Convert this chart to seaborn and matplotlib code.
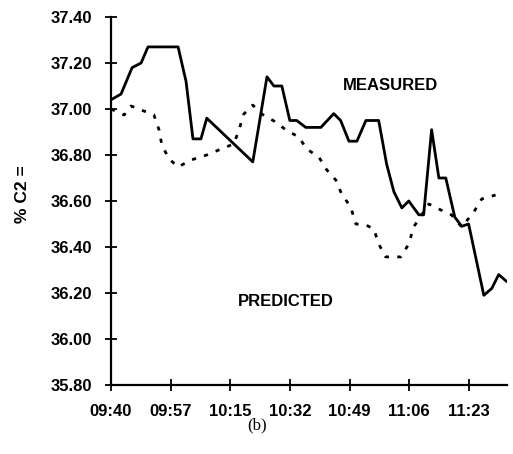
import matplotlib
matplotlib.use("Agg")
import matplotlib.pyplot as plt
import seaborn as sns
import pandas as pd

# ---- data (minutes after 09:40, % C2=) ----
measured_t = [0.0, 2.9, 6.1, 8.7, 10.7, 19.4, 21.7, 23.7, 26.0, 27.7, 41.0, 45.1,
              47.1, 49.4, 51.7, 53.7, 56.3, 60.7, 64.4, 66.4, 68.8, 71.1, 73.7,
              77.4, 79.7, 81.8, 84.1, 86.1, 89.0, 90.4, 92.7, 94.8, 96.8, 99.4,
              101.4, 103.4, 107.8, 110.1, 112.1, 114.4]
measured_v = [37.04, 37.065, 37.18, 37.20, 37.27, 37.27, 37.12, 36.87, 36.87, 36.96,
              36.77, 37.14, 37.10, 37.10, 36.95, 36.95, 36.92, 36.92, 36.98, 36.95,
              36.86, 36.86, 36.95, 36.95, 36.76, 36.64, 36.57, 36.60, 36.54, 36.54,
              36.91, 36.70, 36.70, 36.53, 36.49, 36.50, 36.19, 36.22, 36.28, 36.25]

predicted_t = [0.0, 3.8, 5.8, 8.7, 12.4, 13.9, 14.7, 16.8, 19.4, 23.1, 27.7, 31.8,
               35.5, 37.0, 38.4, 41.0, 43.6, 47.1, 50.6, 54.3, 56.6, 60.1, 62.4,
               65.0, 66.7, 69.3, 70.8, 73.7, 76.0, 77.4, 79.4, 83.8, 86.1, 87.5,
               91.9, 94.8, 98.5, 101.4, 104.9, 107.2, 111.2]
predicted_v = [37.00, 36.974, 37.013, 36.996, 36.974, 36.909, 36.843, 36.783, 36.748,
               36.778, 36.80, 36.826, 36.848, 36.909, 36.978, 37.017, 36.978, 36.948,
               36.909, 36.878, 36.826, 36.791, 36.735, 36.691, 36.630, 36.574, 36.50,
               36.496, 36.478, 36.413, 36.357, 36.357, 36.413, 36.487, 36.587, 36.565,
               36.539, 36.487, 36.552, 36.609, 36.626]

xtick_pos = [0, 17.25, 34.5, 51.75, 69.0, 86.25, 103.5]
xtick_labels = ["09:40", "09:57", "10:15", "10:32", "10:49", "11:06", "11:23"]
ytick_pos = [35.8, 36.0, 36.2, 36.4, 36.6, 36.8, 37.0, 37.2, 37.4]
ytick_labels = ["35.80", "36.00", "36.20", "36.40", "36.60", "36.80", "37.00", "37.20", "37.40"]

df = pd.concat([
    pd.DataFrame({"t": measured_t, "v": measured_v, "series": "MEASURED"}),
    pd.DataFrame({"t": predicted_t, "v": predicted_v, "series": "PREDICTED"}),
])

sns.set_style("white")
plt.rcParams["font.family"] = ["Liberation Sans", "DejaVu Sans"]
plt.rcParams["text.color"] = "black"
plt.rcParams["axes.labelcolor"] = "black"

fig = plt.figure(figsize=(5.13, 4.54), dpi=100)
ax = fig.add_axes([111 / 513, 1 - 385 / 454, 396 / 513, 368 / 454])

sns.lineplot(data=df, x="t", y="v", hue="series", style="series",
             palette={"MEASURED": "black", "PREDICTED": "black"},
             dashes={"MEASURED": "", "PREDICTED": (1.5, 3)},
             estimator=None, sort=False, linewidth=2.0, legend=False, ax=ax)

ax.set_xlim(0, 114.5)
ax.set_ylim(35.8, 37.4)
ax.set_xticks(xtick_pos)
ax.set_xticklabels(xtick_labels, fontsize=12, fontweight="bold")
ax.set_yticks(ytick_pos)
ax.set_yticklabels(ytick_labels, fontsize=12, fontweight="bold")
ax.tick_params(axis="both", direction="inout", length=9, width=1.3,
               colors="black", bottom=True, left=True)
ax.tick_params(axis="y", pad=9)
ax.tick_params(axis="x", pad=9)

for s in ["top", "right"]:
    ax.spines[s].set_visible(False)
for s in ["left", "bottom"]:
    ax.spines[s].set_color("black")
    ax.spines[s].set_linewidth(1.6)

ax.set_xlabel("")
ax.set_ylabel("% C2 =", fontsize=12.5, fontweight="bold", color="black")
ax.yaxis.set_label_coords(-0.205, 0.52)

ax.text(80.9, 37.104, "MEASURED", ha="center", va="center", fontsize=12,
        fontweight="bold", color="black")
ax.text(50.6, 36.165, "PREDICTED", ha="center", va="center", fontsize=12,
        fontweight="bold", color="black")

fig.text(257 / 513, 1 - 425 / 454, "(b)", ha="center", va="center",
         fontsize=12, color="black", family=["Liberation Serif", "DejaVu Serif"])

fig.savefig("out.png", dpi=100, facecolor="white")
